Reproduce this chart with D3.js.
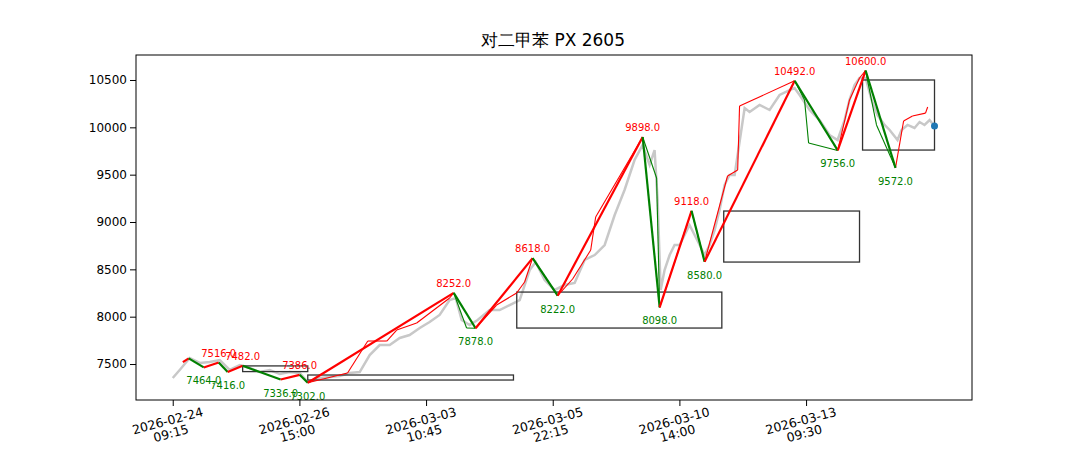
<!DOCTYPE html><html><head><meta charset="utf-8">
<script src="https://cdn.jsdelivr.net/npm/d3@7"></script>
<style>body{margin:0;background:#fff}text{font-family:"DejaVu Sans",sans-serif}</style></head><body>
<svg id="c" width="1080" height="450"></svg>
<script>
const title="对二甲苯 PX 2605";
const tickIdx=[0,100,200,300,400,500];
const tickLabels=[["2026-02-24","09:15"],["2026-02-26","15:00"],["2026-03-03","10:45"],["2026-03-05","22:15"],["2026-03-10","14:00"],["2026-03-13","09:30"]];
const yTicks=[7500,8000,8500,9000,9500,10000,10500];
const priceIdx=[0,5.5,13.4,21.3,29.2,37.1,45,52.9,60.8,68.7,76.6,84.5,92.3,100.2,106.6,116,124,131.8,139.7,147.6,155.5,163.4,171.3,179.2,187,195,202.8,210.7,218.6,223.4,228.1,234.4,240.7,250.2,258.1,266,273.9,281.8,286.5,293.6,301.5,309.4,317.3,325.2,333.1,341,348.9,356.7,364.6,370.9,376.5,380.4,382.8,385.2,388.3,392.3,396.2,400.2,408,412,416,419.9,423.8,427.8,431.7,435.7,439.6,443.6,451.5,455.4,463.3,471.2,479.1,487,490.9,494.9,502.8,506.7,510.7,518.5,524.9,530.4,534.3,538.3,542.2,547,551.7,556.4,562,566,572.2,575.4,580.1,585.6,589.6,593.5,597.5,601.4];
const priceVal=[7352,7437,7563,7511,7521,7542,7437,7489,7458,7415,7437,7394,7415,7405,7310,7352,7363,7373,7405,7415,7595,7700,7700,7775,7806,7880,7944,8018,8176,8197,7965,7912,7965,8070,8070,8123,8176,8493,8577,8387,8282,8334,8356,8599,8651,8757,9074,9338,9655,9813,9602,9760,9232,8282,8493,8651,8757,8757,8968,8863,8757,8651,8757,8915,9127,9391,9496,9496,10204,10162,10236,10183,10342,10394,10415,10342,10183,10130,10077,9919,9866,10077,10289,10447,10521,10521,10289,10130,10025,9972,9866,9972,10025,9993,10056,10025,10077,10014];
const pivotIdx=[8,12.6,24.5,36.3,43.4,55.2,85.2,100.2,106.6,221.8,239.1,284.1,303.9,371,384.4,409.6,419.9,491,525,547,570.6];
const pivotVal=[7520,7560,7464,7516,7416,7482,7336,7386,7302,8252,7878,8618,8222,9898,8098,9118,8580,10492,9756,10600,9572];
const pivotLabeled=[false,false,true,true,true,true,true,true,true,true,true,true,true,true,true,true,true,true,true,true,true];
const thinIdx=[106.6,138,154,169,176.8,192.6,218.6,221.8,232,239.1,255.7,271.5,277.8,284.1,303.9,315.7,330,333.9,371,382,384.4,409.6,419.9,438,446,447.5,491,498.8,502,525,534.3,542.2,547,555.6,570.6,577,584,594.3,596];
const thinVal=[7302,7405,7743,7743,7859,7933,8197,8252,7880,7878,8123,8250,8366,8618,8222,8398,8704,9053,9898,9465,8098,9118,8580,9486,9549,10225,10492,10289,9834,9756,10289,10521,10600,10025,9572,10067,10120,10150,10215];
const boxX0=[55.2,106.6,271.6,435,544.6], boxX1=[106.6,269,433.5,542.2,601.4];
const boxY0=[7420,7331,7880,8577,9760], boxY1=[7480,7384,8260,9116,10500];
const lastIdx=601.4, lastVal=10014;

const svg=d3.select("#c");
const L=136,R=972,T=55,B=400;
const x=d3.scaleLinear().domain([-29,631]).range([L,R]);
const y=d3.scaleLinear().domain([7120,10764]).range([B,T]);
svg.append("text").attr("x",553).attr("y",46).attr("text-anchor","middle").attr("font-size",17).text(title);
const g=svg.append("g");
const line=d3.line().x(d=>x(d[0])).y(d=>y(d[1]));
g.append("path").attr("d",line(priceIdx.map((v,i)=>[v,priceVal[i]]))).attr("fill","none").attr("stroke","#c8c8c8").attr("stroke-width",2.5);
boxX0.forEach((v,i)=>g.append("rect").attr("x",x(v)).attr("y",y(boxY1[i])).attr("width",x(boxX1[i])-x(v)).attr("height",y(boxY0[i])-y(boxY1[i])).attr("fill","none").attr("stroke","#333").attr("stroke-width",1.3));
for(let i=0;i<thinIdx.length-1;i++){g.append("line").attr("x1",x(thinIdx[i])).attr("y1",y(thinVal[i])).attr("x2",x(thinIdx[i+1])).attr("y2",y(thinVal[i+1])).attr("stroke",thinVal[i+1]>=thinVal[i]?"red":"green").attr("stroke-width",1.1);}
for(let i=0;i<pivotIdx.length-1;i++){g.append("line").attr("x1",x(pivotIdx[i])).attr("y1",y(pivotVal[i])).attr("x2",x(pivotIdx[i+1])).attr("y2",y(pivotVal[i+1])).attr("stroke",pivotVal[i+1]>=pivotVal[i]?"red":"green").attr("stroke-width",2.2);}
pivotIdx.forEach((v,i)=>{if(!pivotLabeled[i])return;const up=(i>0&&pivotVal[i]>pivotVal[i-1]);
 g.append("text").attr("x",x(v)).attr("y",y(pivotVal[i])+(up?-6:17)).attr("text-anchor","middle").attr("font-size",10).attr("fill",up?"red":"green").text(pivotVal[i].toFixed(1));});
g.append("circle").attr("cx",x(lastIdx)).attr("cy",y(lastVal)).attr("r",3.5).attr("fill","#1f77b4");
svg.append("rect").attr("x",L).attr("y",T).attr("width",R-L).attr("height",B-T).attr("fill","none").attr("stroke","#000").attr("stroke-width",1);
const ya=svg.append("g").attr("transform",`translate(${L},0)`).call(d3.axisLeft(y).tickValues(yTicks).tickFormat(d3.format("d")).tickSizeOuter(0));
ya.select(".domain").remove();ya.selectAll("text").attr("font-size",12).attr("font-family","DejaVu Sans").attr("fill","#000");
const xa=svg.append("g").attr("transform",`translate(0,${B})`).call(d3.axisBottom(x).tickValues(tickIdx).tickFormat("").tickSizeOuter(0));
xa.select(".domain").remove();
tickIdx.forEach((v,i)=>{const t=svg.append("text").attr("font-size",12.5).attr("text-anchor","middle").attr("transform",`translate(${x(v)-4},${B+25}) rotate(-15)`);
 t.append("tspan").attr("x",0).attr("dy",0).text(tickLabels[i][0]);
 t.append("tspan").attr("x",0).attr("dy",13).text(tickLabels[i][1]);});
</script></body></html>
